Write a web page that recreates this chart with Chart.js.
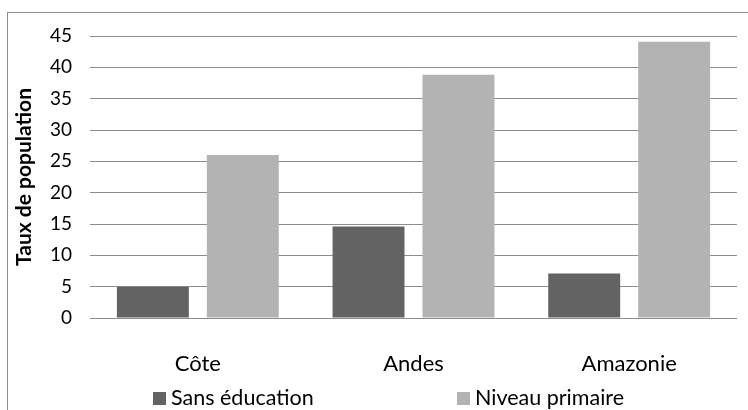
<!DOCTYPE html>
<html>
<head>
<meta charset="utf-8">
<script src="https://cdn.jsdelivr.net/npm/chart.js@4"></script>
<style>
  html, body { margin: 0; padding: 0; background: #fff; overflow: hidden; }
  #wrap { position: relative; width: 748px; height: 410px; }
  #cadre { position: absolute; left: 7px; top: 12px; width: 800px; height: 500px; border: 1px solid #8c8c8c; }
  #legende { position: absolute; top: 384px; left: 0; width: 748px; height: 26px; font-family: Lato, sans-serif; font-size: 21.5px; color: #000; }
  .item { position: absolute; top: 0; line-height: 26px; white-space: nowrap; }
  .carre { display: inline-block; width: 13px; height: 13px; margin-right: 5px; vertical-align: 0px; }
</style>
</head>
<body>
<div id="wrap">
  <div id="cadre"></div>
  <canvas id="graphique" width="748" height="410"></canvas>
  <div id="legende"></div>
</div>
<script>
const regions = ["Côte", "Andes", "Amazonie"];
const sansEducation = [5.0, 14.6, 7.1];
const niveauPrimaire = [26.0, 38.8, 44.1];
const ticksY = [0, 5, 10, 15, 20, 25, 30, 35, 40, 45];

const police = "Lato, 'Open Sans', sans-serif";

const graphique = new Chart(document.getElementById("graphique").getContext("2d"), {
  type: "bar",
  data: {
    labels: regions,
    datasets: [
      { label: "Sans éducation", data: sansEducation, backgroundColor: "#636363" },
      { label: "Niveau primaire", data: niveauPrimaire, backgroundColor: "#b3b3b3" }
    ]
  },
  options: {
    responsive: false,
    animation: false,
    categoryPercentage: 0.834,
    barPercentage: 0.8,
    layout: { padding: { left: 0, right: 11, top: 36, bottom: 0 } },
    plugins: {
      legend: { display: false },
      tooltip: { enabled: false }
    },
    scales: {
      x: {
        grid: { display: false },
        border: { display: false },
        ticks: { color: "#000", font: { family: police, size: 22 }, padding: 25 },
        afterFit: (s) => { s.height = 92; }
      },
      y: {
        min: ticksY[0],
        max: ticksY[ticksY.length - 1],
        afterBuildTicks: (s) => { s.ticks = ticksY.map(v => ({ value: v })); },
        grid: { color: "#8c8c8c", lineWidth: 1, drawTicks: false },
        border: { display: false },
        ticks: { color: "#000", font: { family: police, size: 19 }, padding: 18 },
        title: {
          display: true,
          text: "Taux de population",
          color: "#000",
          font: { family: police, size: 21, weight: "bold" },
          padding: { top: 12, bottom: 0 }
        },
        afterFit: (s) => { s.width = 90; }
      }
    }
  }
});

// légende en HTML, construite depuis les jeux de données
const positions = [153, 457];
const legende = document.getElementById("legende");
graphique.data.datasets.forEach((ds, i) => {
  const el = document.createElement("div");
  el.className = "item";
  el.style.left = positions[i] + "px";
  el.innerHTML = '<span class="carre" style="background:' + ds.backgroundColor + '"></span>' + ds.label;
  legende.appendChild(el);
});
</script>
</body>
</html>
